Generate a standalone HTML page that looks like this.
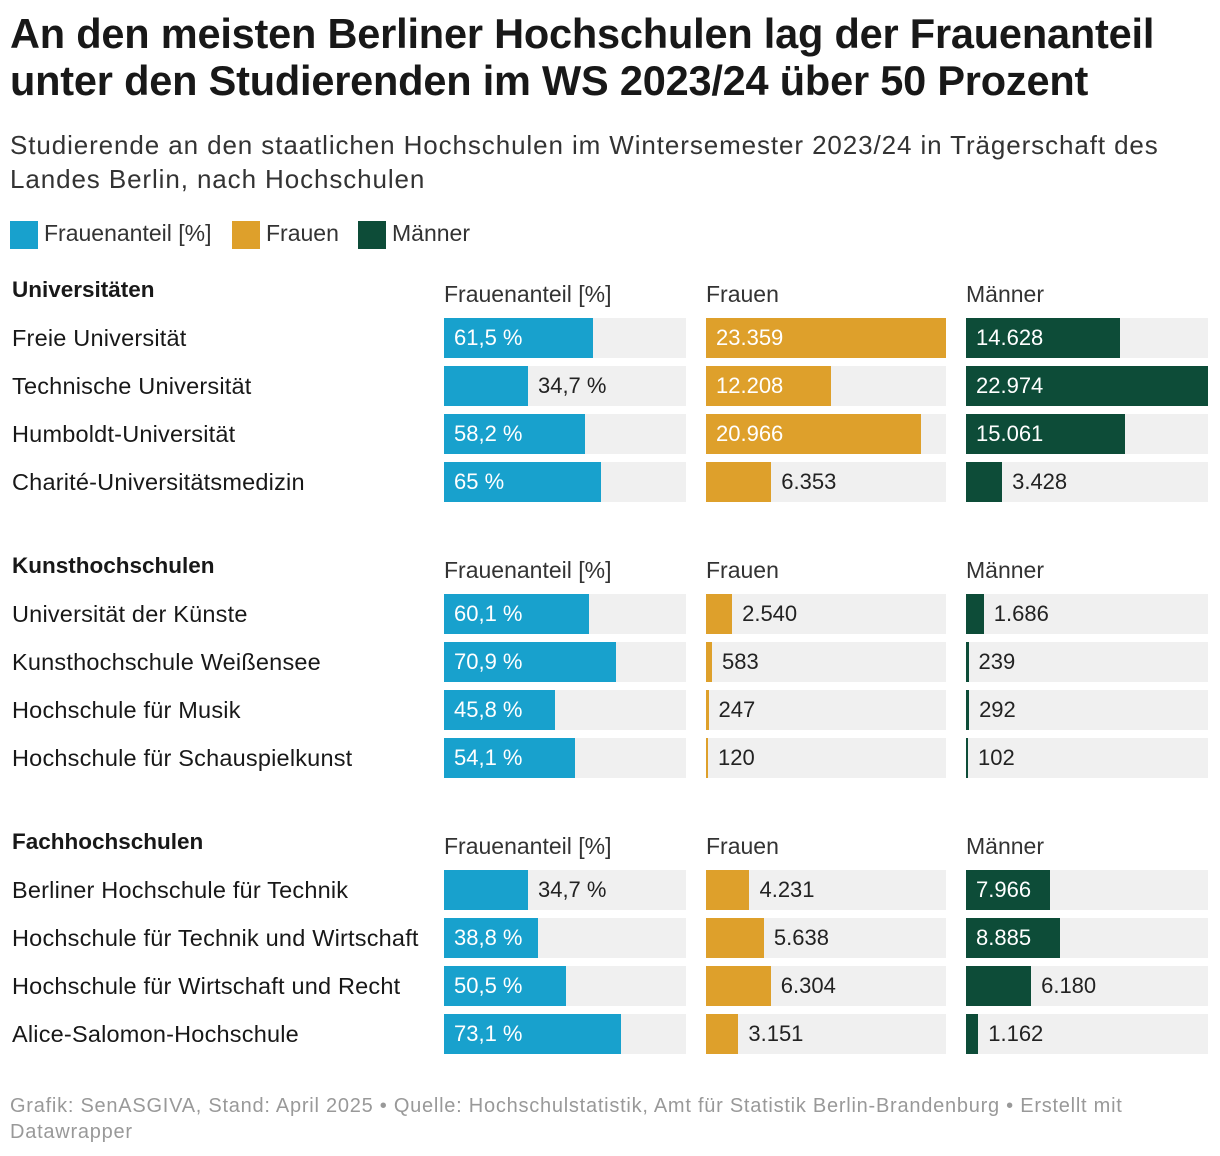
<!DOCTYPE html>
<html><head><meta charset="utf-8">
<style>
body{margin:0;width:1220px;height:1156px;background:#fff;font-family:"Liberation Sans",sans-serif;color:#181818;position:relative;overflow:hidden}
.abs{position:absolute;white-space:nowrap}
h1{position:absolute;left:10px;top:10px;margin:0;font-size:41.5px;line-height:47px;font-weight:bold;letter-spacing:-0.2px}
.sub{left:10px;top:128px;font-size:26px;line-height:34px;color:#333;white-space:normal;width:1190px;letter-spacing:0.9px}
.leg{top:220px;font-size:23px;color:#333}
.sw{display:inline-block;width:28px;height:28px;vertical-align:middle;margin-right:6px}
.bg{position:absolute;background:#f0f0f0;height:40px}
.bar{position:absolute;height:40px}
.lab{position:absolute;font-size:22px;line-height:40px}
</style></head><body>
<h1>An den meisten Berliner Hochschulen lag der Frauenanteil<br>unter den Studierenden im WS 2023/24 über 50 Prozent</h1>
<div class="abs sub">Studierende an den staatlichen Hochschulen im Wintersemester 2023/24 in Trägerschaft des Landes Berlin, nach Hochschulen</div>
<div class="abs leg" style="left:10px"><span class="sw" style="background:#18a1cd"></span>Frauenanteil [%]</div>
<div class="abs leg" style="left:232px"><span class="sw" style="background:#dea02b"></span>Frauen</div>
<div class="abs leg" style="left:358px"><span class="sw" style="background:#0d4c38"></span>Männer</div>
<div id="chart"></div>
<div class="abs" style="left:10px;top:1093px;font-size:20px;line-height:26px;color:#999;white-space:normal;width:1160px;letter-spacing:0.75px">Grafik: SenASGIVA, Stand: April 2025 • Quelle: Hochschulstatistik, Amt für Statistik Berlin-Brandenburg • Erstellt mit Datawrapper</div>
<script>
const groups=["Universitäten","Kunsthochschulen","Fachhochschulen"];
const categories=[["Freie Universität","Technische Universität","Humboldt-Universität","Charité-Universitätsmedizin"],["Universität der Künste","Kunsthochschule Weißensee","Hochschule für Musik","Hochschule für Schauspielkunst"],["Berliner Hochschule für Technik","Hochschule für Technik und Wirtschaft","Hochschule für Wirtschaft und Recht","Alice-Salomon-Hochschule"]];
const anteil=[[61.5,34.7,58.2,65],[60.1,70.9,45.8,54.1],[34.7,38.8,50.5,73.1]];
const frauen=[[23359,12208,20966,6353],[2540,583,247,120],[4231,5638,6304,3151]];
const maenner=[[14628,22974,15061,3428],[1686,239,292,102],[7966,8885,6180,1162]];
const colHeads=["Frauenanteil [%]","Frauen","Männer"];
const chart=document.getElementById('chart');
const cols=[{x:444,w:242,max:100,c:"#18a1cd",d:anteil,f:v=>String(v).replace('.',',')+' %',n:'anteil'},
{x:706,w:240,max:Math.max(...frauen.flat()),c:"#dea02b",d:frauen,f:v=>v.toLocaleString('de-DE'),n:'frauen'},
{x:966,w:242,max:Math.max(...maenner.flat()),c:"#0d4c38",d:maenner,f:v=>v.toLocaleString('de-DE'),n:'maenner'}];
function mk(cls,css,txt){const e=document.createElement('div');e.className=cls;e.style.cssText=css;if(txt!==undefined)e.textContent=txt;chart.appendChild(e);return e;}
groups.forEach((g,gi)=>{
 const top=318+gi*276;
 const gh=mk('abs','left:12px;top:'+(top-42)+'px;font-size:22.5px;font-weight:bold;line-height:28px',g);
 
 
 cols.forEach((c,ci)=>{
  const h=mk('abs','left:'+c.x+'px;top:'+(top-38)+'px;font-size:23px;line-height:28px;color:#333',colHeads[ci]);
  
  
 });
 categories[gi].forEach((name,ri)=>{
  const y=top+ri*48;
  const l=mk('lab','left:12px;top:'+y+'px;font-size:23.5px;letter-spacing:0.2px',name);
  
  
  cols.forEach(c=>{
   const v=c.d[gi][ri];
   const bw=Math.max(2,c.w*v/c.max);
   const bg=mk('bg','left:'+c.x+'px;top:'+y+'px;width:'+c.w+'px');
   
   
   const b=mk('bar','left:'+c.x+'px;top:'+y+'px;width:'+bw+'px;background:'+c.c);
   
   
   const txt=c.f(v);
   const inside=bw>txt.length*12+18;
   const t=mk('lab','left:'+(inside?c.x+10:c.x+bw+10)+'px;top:'+y+'px;color:'+(inside?'#fff':'#222'),txt);
   
   
  });
 });
});
</script>
</body></html>
